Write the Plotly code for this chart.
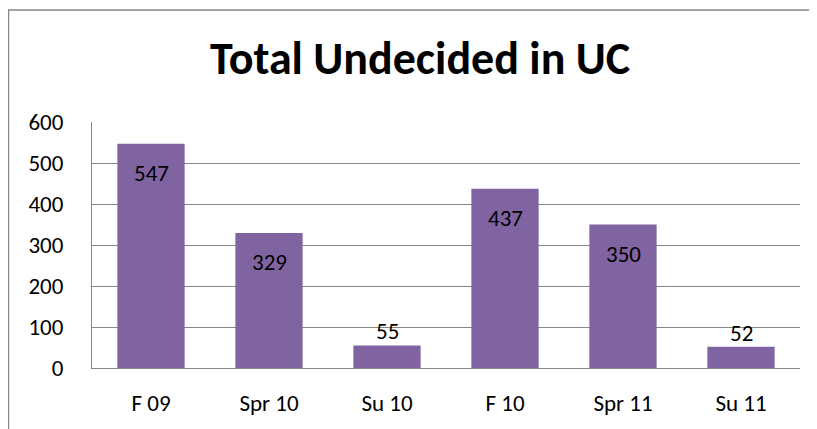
import plotly.graph_objects as go

terms = ["F 09", "Spr 10", "Su 10", "F 10", "Spr 11", "Su 11"]
undecided = [547, 329, 55, 437, 350, 52]
y_ticks = [0, 100, 200, 300, 400, 500, 600]

FONT = "Carlito, Calibri, Lato, sans-serif"
# the page adds an 8px body margin, so the figure is sized for what is left
W, H = 809, 421
L, R, T, B = 84, 17, 114, 59

fig = go.Figure(go.Bar(
    x=terms, y=undecided,
    marker=dict(color="#8064A2", line=dict(width=0)),
    width=0.57, hoverinfo="x+y",
))

# data labels: inside the top of tall bars, just above short ones
for t, v in zip(terms, undecided):
    fig.add_annotation(
        x=t, y=v, text=str(v), showarrow=False,
        yshift=-29 if v >= 100 else 14,
        font=dict(family=FONT, size=23, color="#000000"),
    )

# chart border (runs off the right and bottom edge)
pw, ph = W - L - R, H - T - B
fig.add_shape(
    type="rect", xref="paper", yref="paper",
    x0=(0.5 - L) / pw, x1=(W + 20 - L) / pw,
    y0=-(B + 20) / ph, y1=(H - 1 - B) / ph,
    line=dict(color="#868686", width=1.5), fillcolor="rgba(0,0,0,0)",
    layer="below",
)

fig.update_layout(
    width=W, height=H,
    margin=dict(l=L, r=R, t=T, b=B),
    paper_bgcolor="white", plot_bgcolor="white",
    title=dict(
        text="<b>Total Undecided in UC</b>",
        x=412 / W, xref="container", xanchor="center",
        y=1 - 50 / H, yref="container", yanchor="middle",
        font=dict(family=FONT, size=46, color="#000000"),
    ),
    font=dict(family=FONT, size=23, color="#000000"),
    showlegend=False,
)
fig.update_yaxes(
    range=[0, 600], tickvals=y_ticks,
    showgrid=True, gridcolor="#868686", gridwidth=1,
    showline=True, linecolor="#868686", linewidth=1,
    zeroline=False, ticks="", ticklabelstandoff=23,
    fixedrange=True,
)
fig.update_xaxes(
    showgrid=False, showline=True, linecolor="#868686", linewidth=1,
    ticks="", ticklabelstandoff=14, fixedrange=True,
)

fig.write_html("out.html")
